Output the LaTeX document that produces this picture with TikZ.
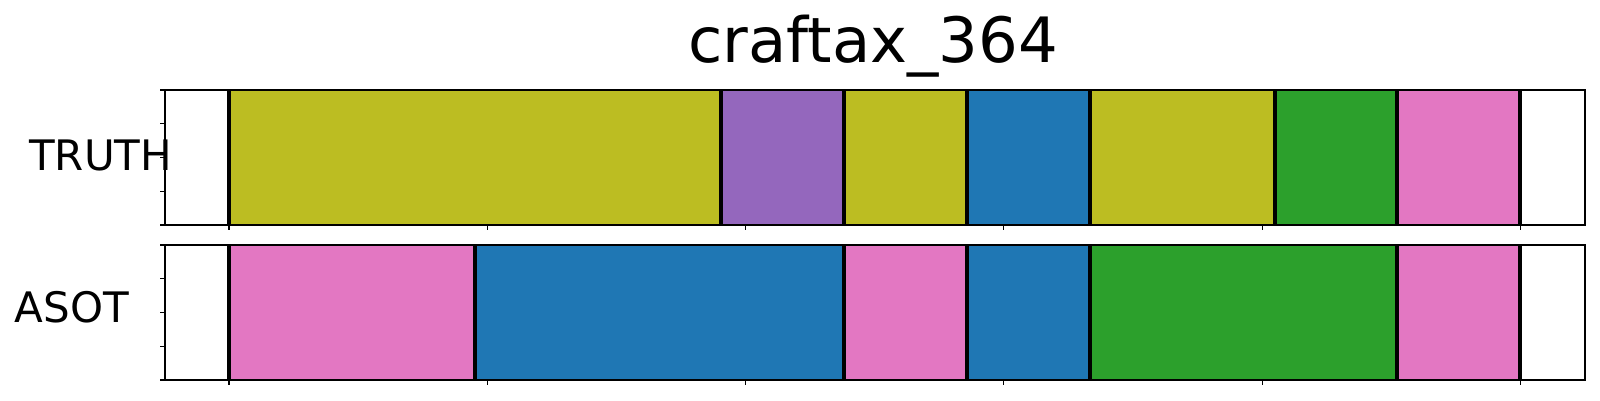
\documentclass[tikz,border=0pt]{standalone}
\usepackage{fontspec}
\setmainfont{DejaVu Sans}
\definecolor{tolive}{HTML}{BCBD22}
\definecolor{tpurple}{HTML}{9467BD}
\definecolor{tblue}{HTML}{1F77B4}
\definecolor{tgreen}{HTML}{2CA02C}
\definecolor{tpink}{HTML}{E377C2}
\tikzset{
  bound/.style={line width=4pt, draw=black},
  frame/.style={line width=1.3pt, draw=black},
  tickmark/.style={line width=1.1pt, draw=black},
  lbl/.style={inner sep=0pt, anchor=base west, font=\fontsize{42}{42}\selectfont},
}
\begin{document}
\begin{tikzpicture}[x=1pt,y=-1pt]
\useasboundingbox (0,0) rectangle (1600,400);
% title
\node[inner sep=0pt, anchor=base, font=\fontsize{62.5}{62.5}\selectfont] (title) at (873,62.3) {craftax\_364};
% ---- TRUTH axes (y 90..225)
\fill[tolive]  (229,90) rectangle (721,225);
\fill[tpurple] (721,90) rectangle (844,225);
\fill[tolive]  (844,90) rectangle (967,225);
\fill[tblue]   (967,90) rectangle (1090,225);
\fill[tolive]  (1090,90) rectangle (1275,225);
\fill[tgreen]  (1275,90) rectangle (1397,225);
\fill[tpink]   (1397,90) rectangle (1520,225);
\foreach \x in {229,721,844,967,1090,1275,1397,1520}
  \draw[bound] (\x,90) -- (\x,225);
\draw[frame] (165,90) rectangle (1585,225);
\foreach \y in {90,123.75,157.5,191.25,225}
  \draw[tickmark] (160,\y) -- (165,\y);
\foreach \i in {0,...,5}
  \draw[tickmark] (229+258.3*\i,225) -- (229+258.3*\i,230);
% ---- ASOT axes (y 245..380)
\fill[tpink]  (229,245) rectangle (475,380);
\fill[tblue]  (475,245) rectangle (844,380);
\fill[tpink]  (844,245) rectangle (967,380);
\fill[tblue]  (967,245) rectangle (1090,380);
\fill[tgreen] (1090,245) rectangle (1397,380);
\fill[tpink]  (1397,245) rectangle (1520,380);
\foreach \x in {229,475,844,967,1090,1397,1520}
  \draw[bound] (\x,245) -- (\x,380);
\draw[frame] (165,245) rectangle (1585,380);
\foreach \y in {245,278.75,312.5,346.25,380}
  \draw[tickmark] (160,\y) -- (165,\y);
\foreach \i in {0,...,5}
  \draw[tickmark] (229+258.3*\i,380) -- (229+258.3*\i,385);
% labels
\node[lbl] (truth) at (29,170) {TRUTH};
\node[lbl] (asot) at (14.5,322.7) {ASOT};
\end{tikzpicture}
\end{document}
